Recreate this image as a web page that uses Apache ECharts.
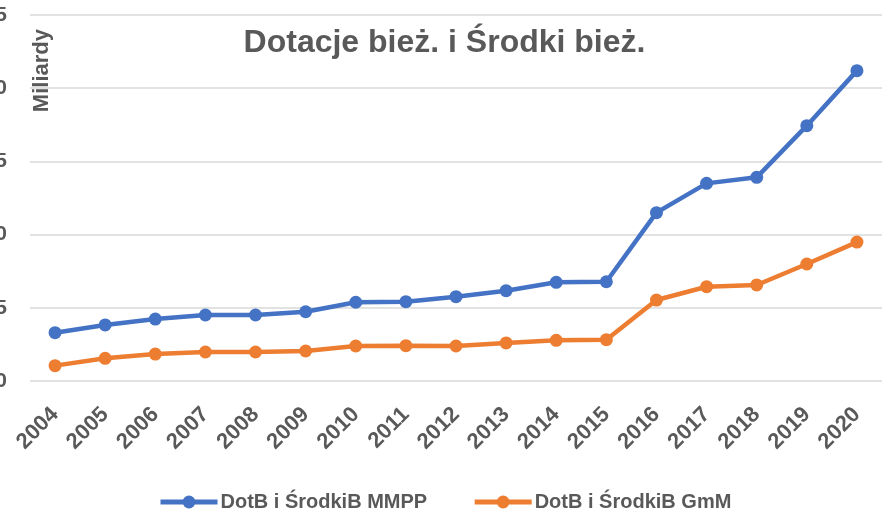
<!DOCTYPE html>
<html>
<head>
<meta charset="utf-8">
<script src="https://cdn.jsdelivr.net/npm/echarts@6/dist/echarts.min.js"></script>
<style>
  html, body { margin: 0; padding: 0; background: #fff; }
  #chart { width: 889px; height: 515px; }
</style>
</head>
<body>
<div id="chart"></div>
<script>
// data (billions)
var years = ["2004", "2005", "2006", "2007", "2008", "2009", "2010", "2011", "2012",
             "2013", "2014", "2015", "2016", "2017", "2018", "2019", "2020"];
var mmpp = [3.30, 3.83, 4.23, 4.51, 4.51, 4.73, 5.38, 5.42, 5.76,
            6.17, 6.74, 6.78, 11.50, 13.50, 13.91, 17.44, 21.20];
var gmm = [1.05, 1.55, 1.84, 1.98, 1.98, 2.05, 2.39, 2.41, 2.39,
           2.60, 2.78, 2.82, 5.53, 6.44, 6.56, 7.99, 9.49];
var seriesNames = ["DotB i ŚrodkiB MMPP", "DotB i ŚrodkiB GmM"];

var textColor = "#595959";
var fontFam = "Liberation Sans, Arial, sans-serif";

var chart = echarts.init(document.getElementById('chart'));

var option = {
    animation: false,
    textStyle: { fontFamily: fontFam },
    title: {
        text: "Dotacje bież. i Środki bież.",
        left: "center",
        top: 22,
        textStyle: { fontSize: 32, fontWeight: "bold", color: textColor, fontFamily: fontFam }
    },
    legend: {
        top: 487,
        left: 153,
        itemWidth: 57,
        itemHeight: 16,
        itemGap: 45,
        data: seriesNames,
        lineStyle: { width: 5 },
        textStyle: { fontSize: 20, fontWeight: "bold", color: textColor, padding: [0, 0, 0, -2] }
    },
    graphic: [{
        type: "text",
        left: 31,
        top: 29,
        rotation: Math.PI / 2,
        style: {
            text: "Miliardy",
            fontSize: 22,
            fontWeight: "bold",
            fill: textColor,
            fontFamily: fontFam
        }
    }],
    grid: { left: 30, right: 7, top: 15, bottom: 134, outerBoundsMode: "none", containLabel: false },
    xAxis: {
        type: "category",
        data: years,
        boundaryGap: true,
        axisLine: { show: false },
        axisTick: { show: false },
        axisLabel: {
            rotate: 45,
            margin: 30,
            fontSize: 22,
            fontWeight: "bold",
            color: textColor,
            interval: 0
        }
    },
    yAxis: {
        type: "value",
        min: 0,
        max: 25,
        interval: 5,
        axisLine: { show: false },
        axisTick: { show: false },
        axisLabel: { margin: 23, fontSize: 21, fontWeight: "bold", color: textColor },
        splitLine: { lineStyle: { color: "#d9d9d9", width: 1.5 } }
    },
    series: [{
        name: seriesNames[0],
        type: "line",
        data: mmpp,
        symbol: "circle",
        symbolSize: 13,
        color: "#4472C4",
        lineStyle: { width: 4.5 }
    }, {
        name: seriesNames[1],
        type: "line",
        data: gmm,
        symbol: "circle",
        symbolSize: 13,
        color: "#ED7D31",
        lineStyle: { width: 4.5 }
    }]
};

chart.setOption(option);
</script>
</body>
</html>
